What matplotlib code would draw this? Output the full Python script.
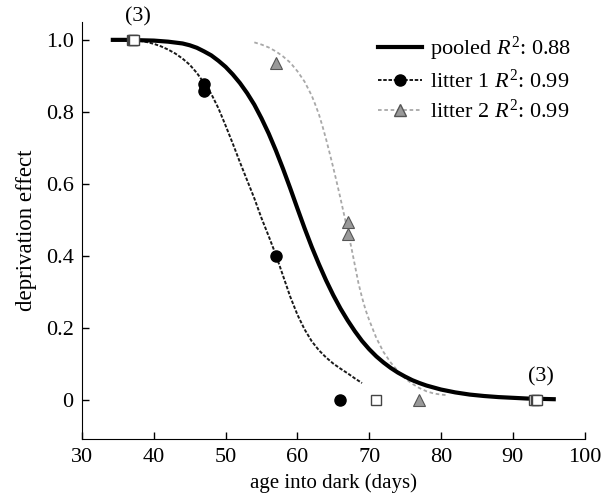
import matplotlib.pyplot as plt

plt.rcParams["font.family"] = ["Liberation Serif", "DejaVu Serif"]
plt.rcParams["mathtext.fontset"] = "custom"
plt.rcParams["mathtext.it"] = "Liberation Serif:italic"
plt.rcParams["mathtext.rm"] = "Liberation Serif"

# fitted curves (day, effect)
pooled_x = [34, 36, 38, 40, 42, 44, 45, 46, 47, 48, 49, 50, 51, 52, 53, 54, 55, 56,
            57, 58, 59, 60, 61, 62, 63, 64, 65, 66, 67, 68, 69, 70, 71, 72, 73, 74,
            75, 76, 77, 78, 80, 82, 84, 86, 88, 90, 92, 94, 96]
pooled_y = [1.000, 1.000, 0.999, 0.998, 0.995, 0.990, 0.985, 0.978, 0.968, 0.957,
            0.942, 0.925, 0.904, 0.880, 0.852, 0.820, 0.782, 0.740, 0.693, 0.642,
            0.588, 0.532, 0.477, 0.425, 0.377, 0.332, 0.291, 0.254, 0.221, 0.191,
            0.164, 0.141, 0.121, 0.104, 0.089, 0.076, 0.065, 0.055, 0.047, 0.040,
            0.029, 0.021, 0.015, 0.011, 0.008, 0.006, 0.004, 0.003, 0.002]

litter1_x = [38, 39, 40, 41, 42, 43, 44, 45, 46, 47, 48, 49, 50, 51, 52, 53, 54,
             55, 56, 57, 58, 59, 60, 61, 62, 63, 64, 65, 66, 67, 68, 69]
litter1_y = [0.998, 0.994, 0.989, 0.982, 0.973, 0.962, 0.948, 0.931, 0.908, 0.880,
             0.850, 0.810, 0.762, 0.712, 0.660, 0.610, 0.560, 0.505, 0.455, 0.403,
             0.345, 0.287, 0.237, 0.196, 0.163, 0.138, 0.118, 0.101, 0.087, 0.074,
             0.060, 0.047]

litter2_x = [54, 55, 56, 57, 58, 59, 60, 61, 62, 62.5, 63, 63.5, 64, 64.5, 65, 65.5,
             66, 66.5, 67, 67.5, 68, 68.5, 69, 69.5, 70, 71, 72, 73, 74, 75, 76, 77,
             78, 79, 80, 81]
litter2_y = [0.993, 0.987, 0.979, 0.968, 0.954, 0.937, 0.913, 0.884, 0.845, 0.820,
             0.793, 0.760, 0.724, 0.685, 0.645, 0.603, 0.560, 0.515, 0.470, 0.425,
             0.375, 0.325, 0.285, 0.250, 0.222, 0.172, 0.133, 0.104, 0.080, 0.060,
             0.045, 0.033, 0.024, 0.018, 0.015, 0.013]

# measured points
l1_pts_x = [47, 47, 57, 66]
l1_pts_y = [0.878, 0.857, 0.40, 0.0]
l2_pts_x = [57, 67, 67, 77]
l2_pts_y = [0.937, 0.493, 0.46, 0.0]
sq_x = [36.9, 37.1, 37.3, 71, 93.0, 93.2, 93.4]
sq_y = [1.0, 1.0, 1.0, 0.0, 0.0, 0.0, 0.0]

fig = plt.figure(figsize=(6.14, 5.0), dpi=100)
ax = fig.add_axes([0.1336, 0.123, 0.8184, 0.834])

gray = "#a8a8a8"
ax.plot(pooled_x, pooled_y, color="black", lw=3, solid_capstyle="butt", zorder=3)
ax.plot(litter1_x, litter1_y, color="#1a1a1a", lw=1.4, ls=(0, (1.8, 0.9)), zorder=2)
ax.plot(litter2_x, litter2_y, color=gray, lw=1.3, ls=(0, (2, 1.5)), zorder=2)

ax.plot(l1_pts_x, l1_pts_y, "o", color="black", ms=8, zorder=4)
ax.plot(l2_pts_x, l2_pts_y, "^", mfc="#999999", mec="#555555", mew=0.8, ms=9, zorder=4)
ax.plot(sq_x, sq_y, "s", mfc="white", mec="#444444", mew=1, ms=7, zorder=5)

ax.text(37.8, 1.065, "(3)", ha="center", va="center", fontsize=16)
ax.text(93.9, 0.064, "(3)", ha="center", va="center", fontsize=16)

# legend proxies
h1, = ax.plot([], [], color="black", lw=3)
h2, = ax.plot([], [], color="#1a1a1a", lw=1.4, ls=(0, (1.8, 0.9)), marker="o", ms=8, mfc="black", mec="black")
h3, = ax.plot([], [], color=gray, lw=1.3, ls=(0, (2, 1.5)), marker="^", ms=9, mfc="#999999", mec="#555555")
ax.legend([h1, h2, h3],
          ["pooled $R^2$: 0.88", "litter 1 $R^2$: 0.99", "litter 2 $R^2$: 0.99"],
          loc="upper left", frameon=False, fontsize=16, handlelength=2.0,
          handletextpad=0.35, labelspacing=0.3, borderpad=0, borderaxespad=0.0,
          bbox_to_anchor=(0.589, 0.968))

ax.set_xlim(30, 100)
ax.set_ylim(-0.107, 1.051)
ax.set_xticks([30, 40, 50, 60, 70, 80, 90, 100])
ax.set_yticks([0, 0.2, 0.4, 0.6, 0.8, 1.0])
ax.set_yticklabels(["0", "0.2", "0.4", "0.6", "0.8", "1.0"])
ax.tick_params(direction="in", length=5, width=1, labelsize=16)
ax.tick_params(axis="x", pad=7)
ax.tick_params(axis="y", pad=6)
ax.spines["top"].set_visible(False)
ax.spines["right"].set_visible(False)
ax.set_xlabel("age into dark (days)", fontsize=15, labelpad=4)
ax.set_ylabel("deprivation effect", fontsize=16.5, labelpad=6)

fig.savefig("out.png", dpi=100)
